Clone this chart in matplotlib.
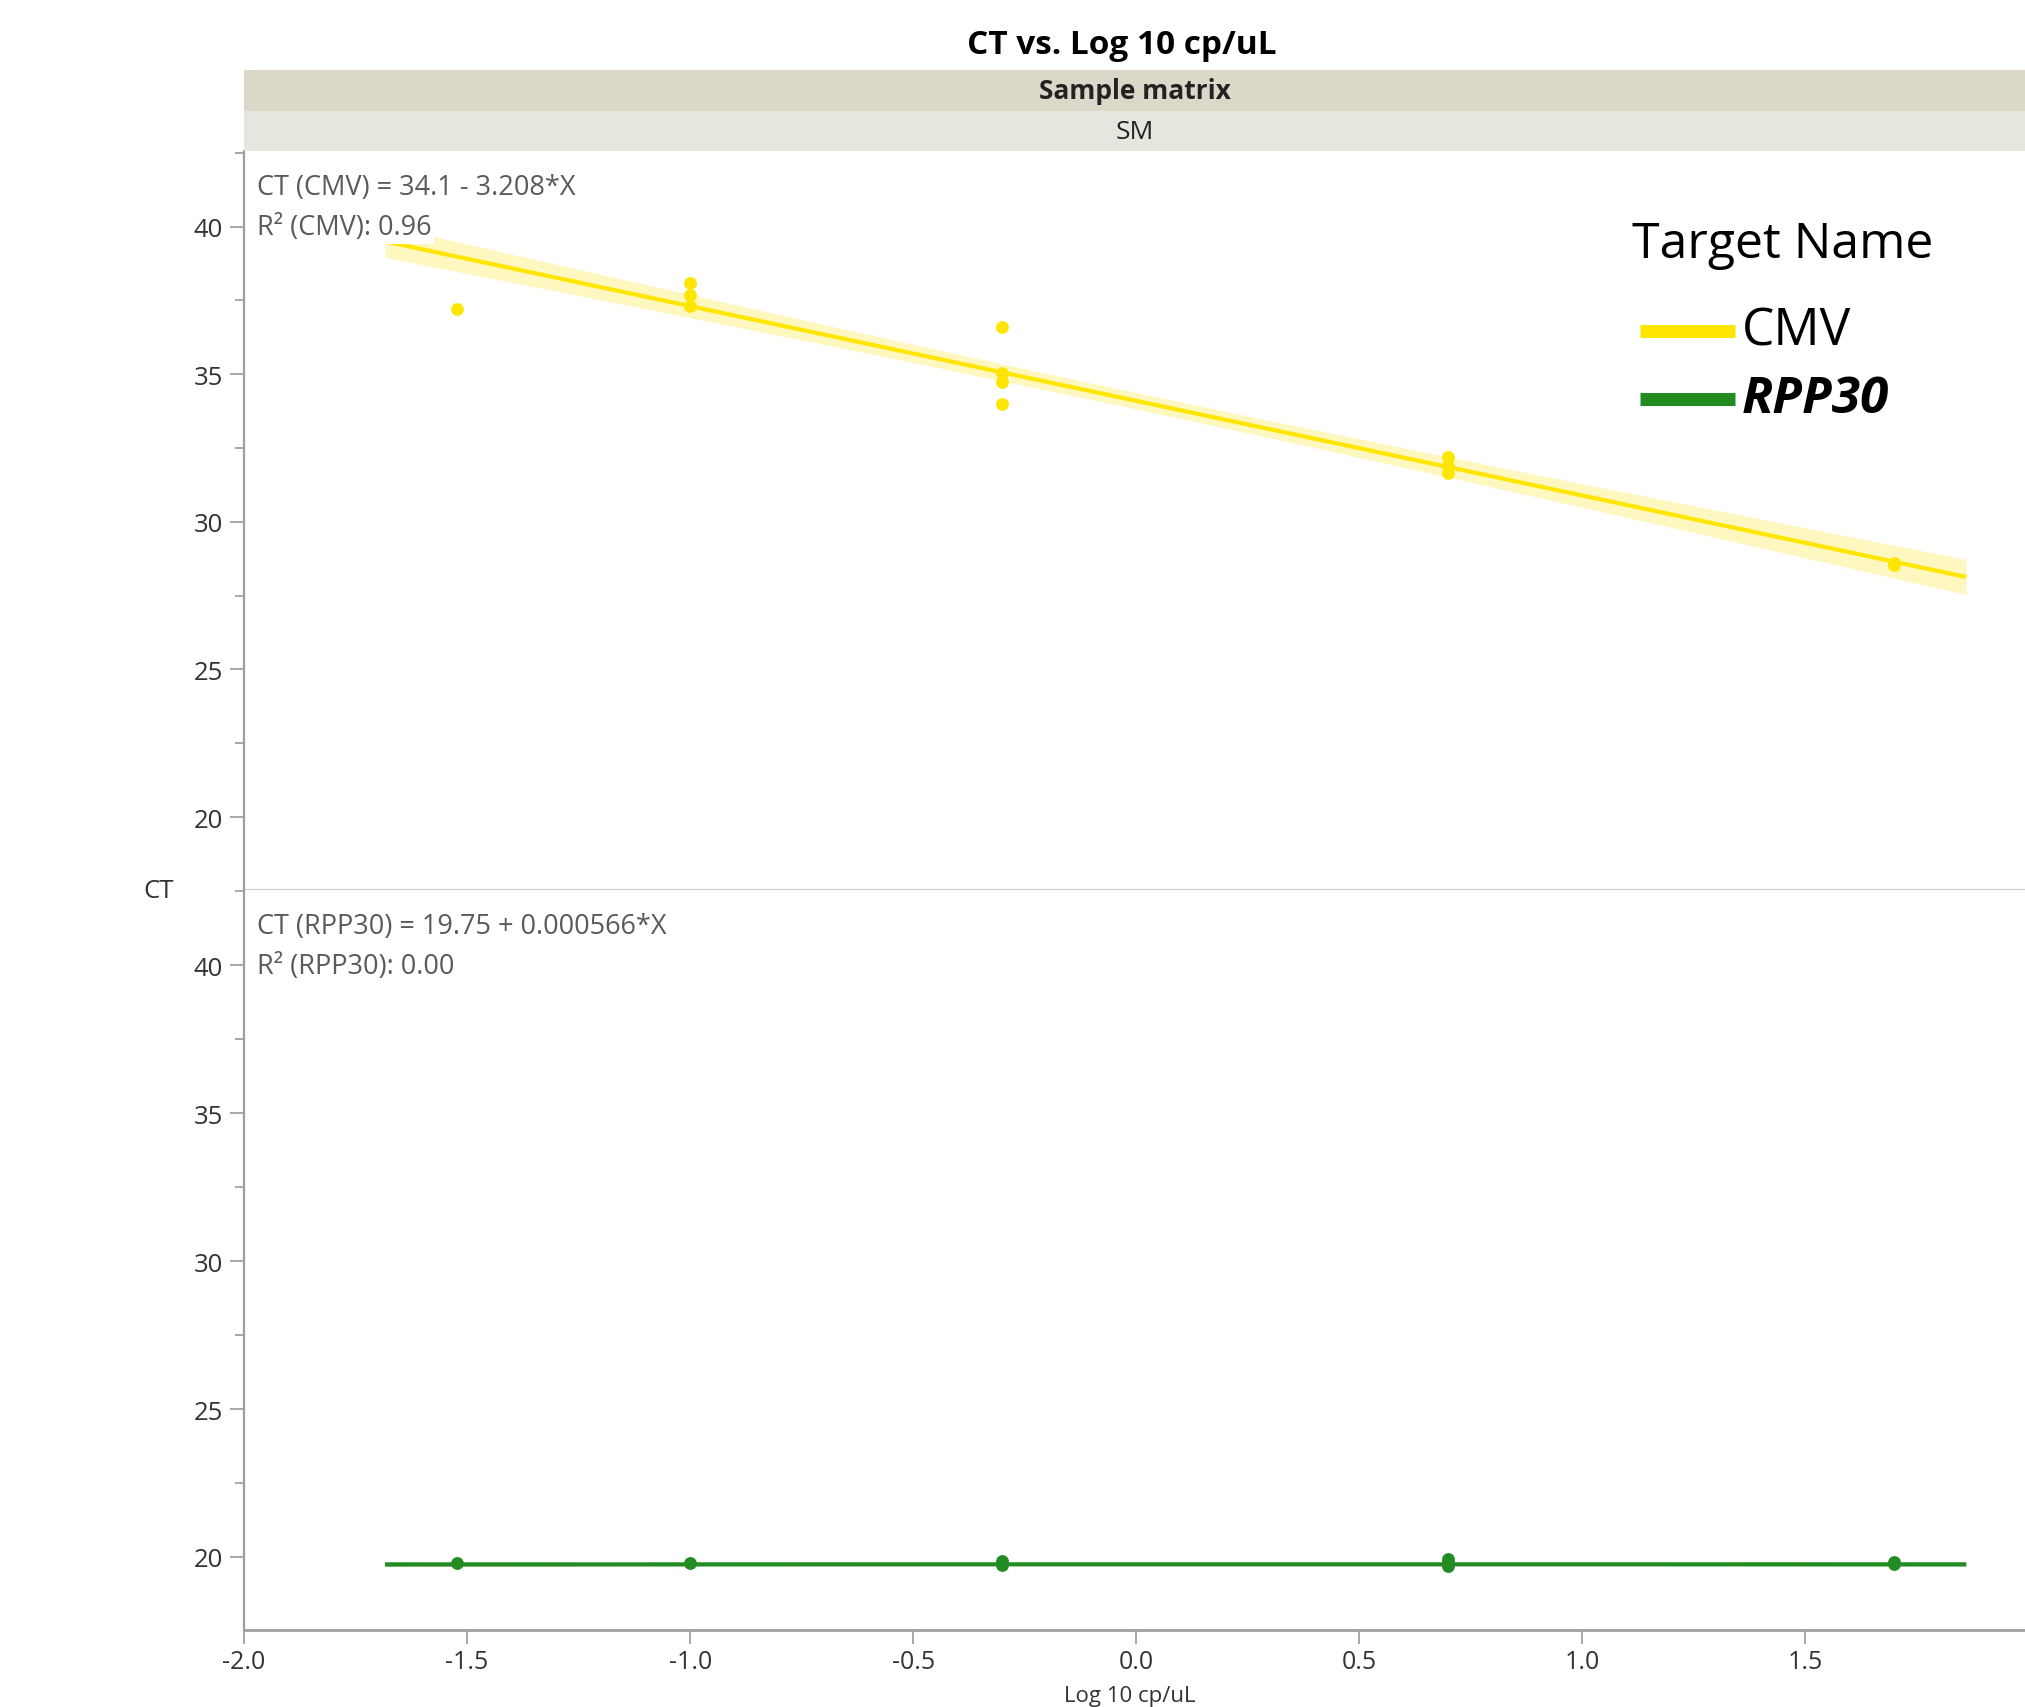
import numpy as np
import matplotlib
matplotlib.use("Agg")
import matplotlib.pyplot as plt
from matplotlib.lines import Line2D
from matplotlib.ticker import MultipleLocator, FormatStrFormatter

plt.rcParams['font.family'] = ['Open Sans', 'DejaVu Sans']
plt.rcParams['axes.unicode_minus'] = False

# values (x = log10 copies/uL)
cmv_x = [-1.523, -1.0, -1.0, -1.0, -0.301, -0.301, -0.301, -0.301,
         0.699, 0.699, 0.699, 1.699, 1.699]
cmv_ct = [37.2, 38.1, 37.7, 37.3, 36.6, 35.05, 34.75, 34.0,
          32.2, 31.9, 31.65, 28.6, 28.55]

rpp_x = [-1.523, -1.0, -0.301, -0.301, -0.301, 0.699, 0.699, 0.699, 1.699, 1.699]
rpp_ct = [19.8, 19.78, 19.72, 19.8, 19.85, 19.7, 19.82, 19.92, 19.75, 19.82]

# fit coefficients as printed on the chart
cmv_fit = (34.1, -3.208)
rpp_fit = (19.75, 0.000566)
cmv_r2 = 0.96
rpp_r2 = 0.00
fit_span = (-1.684, 1.86)

x_ticks = [-2.0, -1.5, -1.0, -0.5, 0.0, 0.5, 1.0, 1.5]
y_ticks = [20, 25, 30, 35, 40]
targets = ['CMV', 'RPP30']

CMV_YELLOW = '#ffe600'
CMV_BAND = '#fff7c0'
RPP_GREEN = '#228b22'
RPP_BAND = '#9fcf9f'
AXIS_GRAY = '#a0a0a0'
TEXT_GRAY = '#5a5a5a'

W, H = 2025, 1708


def fx(px):
    return px / W


def fy(py):
    return 1 - py / H


def fit_band(x, y, b0, b1, xs, k=1.2):
    # confidence-style band around the fitted line from the residual spread
    x = np.asarray(x, dtype=float)
    y = np.asarray(y, dtype=float)
    n = len(x)
    resid = y - (b0 + b1 * x)
    s = np.sqrt(np.sum(resid ** 2) / (n - 2))
    sxx = np.sum((x - x.mean()) ** 2)
    return k * s * np.sqrt(1 / n + (xs - x.mean()) ** 2 / sxx)


def draw_panel(ax, xs, ys, fit, r2, name, color, band_color):
    b0, b1 = fit
    grid = np.linspace(fit_span[0], fit_span[1], 200)
    yfit = b0 + b1 * grid
    half = fit_band(xs, ys, b0, b1, grid)
    ax.fill_between(grid, yfit - half, yfit + half, color=band_color, lw=0, zorder=1)
    ax.plot(grid, yfit, color=color, lw=3, zorder=2, solid_capstyle='butt')
    ax.scatter(xs, ys, s=85, color=color, linewidths=0, zorder=3)

    sign = '-' if b1 < 0 else '+'
    coef = f'{abs(b1):g}'
    eq = f'CT ({name}) = {b0:g} {sign} {coef}*X'
    ax.text(0.0075, 0.952, eq, transform=ax.transAxes, ha='left', va='center',
            fontsize=19.5, color=TEXT_GRAY, zorder=5,
            bbox=dict(facecolor='white', edgecolor='none', pad=1.5))
    ax.text(0.0075, 0.897, f'R\u00b2 ({name}): {r2:.2f}', transform=ax.transAxes,
            ha='left', va='center', fontsize=19.5, color=TEXT_GRAY, zorder=5,
            bbox=dict(facecolor='white', edgecolor='none', pad=1.5))

    ax.set_xlim(-2.0, 1.992)
    ax.set_ylim(17.53, 42.55)
    ax.set_yticks(y_ticks)
    ax.yaxis.set_minor_locator(MultipleLocator(2.5))
    ax.tick_params(axis='y', which='major', length=10, width=1.3, color=AXIS_GRAY,
                   labelsize=18.5, labelcolor='#333333', pad=5)
    ax.tick_params(axis='y', which='minor', length=6.5, width=1.3, color=AXIS_GRAY)
    ax.spines['top'].set_visible(False)
    ax.spines['right'].set_visible(False)
    ax.spines['left'].set_color(AXIS_GRAY)
    ax.spines['left'].set_linewidth(1.6)


fig = plt.figure(figsize=(W / 100, H / 100), dpi=100)

ax_top = fig.add_axes([fx(244), fy(891), 1 - fx(244), (891 - 152.4) / H])
ax_bot = fig.add_axes([fx(244), fy(1631), 1 - fx(244), (1631 - 891) / H])

draw_panel(ax_top, cmv_x, cmv_ct, cmv_fit, cmv_r2, targets[0], CMV_YELLOW, CMV_BAND)
draw_panel(ax_bot, rpp_x, rpp_ct, rpp_fit, rpp_r2, targets[1], RPP_GREEN, RPP_BAND)

ax_top.tick_params(axis='x', bottom=False, labelbottom=False)
ax_top.spines['bottom'].set_color('#cccccc')
ax_top.spines['bottom'].set_linewidth(1.5)

ax_bot.set_xticks(x_ticks)
ax_bot.xaxis.set_major_formatter(FormatStrFormatter('%.1f'))
ax_bot.tick_params(axis='x', length=10, width=1.3, color=AXIS_GRAY,
                   labelsize=18, labelcolor='#333333', pad=4)
ax_bot.spines['bottom'].set_color(AXIS_GRAY)
ax_bot.spines['bottom'].set_linewidth(2)

# header strips
hdr1 = fig.add_axes([fx(244), fy(112.4), 1 - fx(244), (112.4 - 71) / H])
hdr2 = fig.add_axes([fx(244), fy(152.4), 1 - fx(244), (152.4 - 112.4) / H])
for hdr, col, label, weight in [(hdr1, '#dbd8c9', 'Sample matrix', 'bold'),
                                (hdr2, '#e7e6de', 'SM', 'normal')]:
    hdr.set_facecolor(col)
    hdr.set_xticks([])
    hdr.set_yticks([])
    for sp in hdr.spines.values():
        sp.set_visible(False)
    hdr.text(0.5, 0.5, label, ha='center', va='center', fontsize=19,
             fontweight=weight, color='#222222', transform=hdr.transAxes)

fig.text(fx(1122), fy(45), 'CT vs. Log 10 cp/uL', ha='center', va='center',
         fontsize=24, fontweight='bold', color='black')
fig.text(fx(159), fy(892), 'CT', ha='center', va='center', fontsize=18.5, color='#333333')
fig.text(fx(1130), fy(1707), 'Log 10 cp/uL', ha='center', va='bottom', fontsize=16,
         color='#333333')

# legend block
fig.text(fx(1632), fy(245), 'Target Name', ha='left', va='center', fontsize=36,
         color='black')
for name, col, ypx, style in [(targets[0], CMV_YELLOW, 332, dict()),
                              (targets[1], RPP_GREEN, 400,
                               dict(fontweight='bold', fontstyle='italic'))]:
    fig.add_artist(Line2D([fx(1640), fx(1735)], [fy(ypx), fy(ypx)], lw=9.4,
                          color=col, solid_capstyle='butt',
                          transform=fig.transFigure))
    fig.text(fx(1742), fy(ypx), name, ha='left', va='center', fontsize=37,
             color='black', **style)

fig.savefig('out.png', dpi=100)
